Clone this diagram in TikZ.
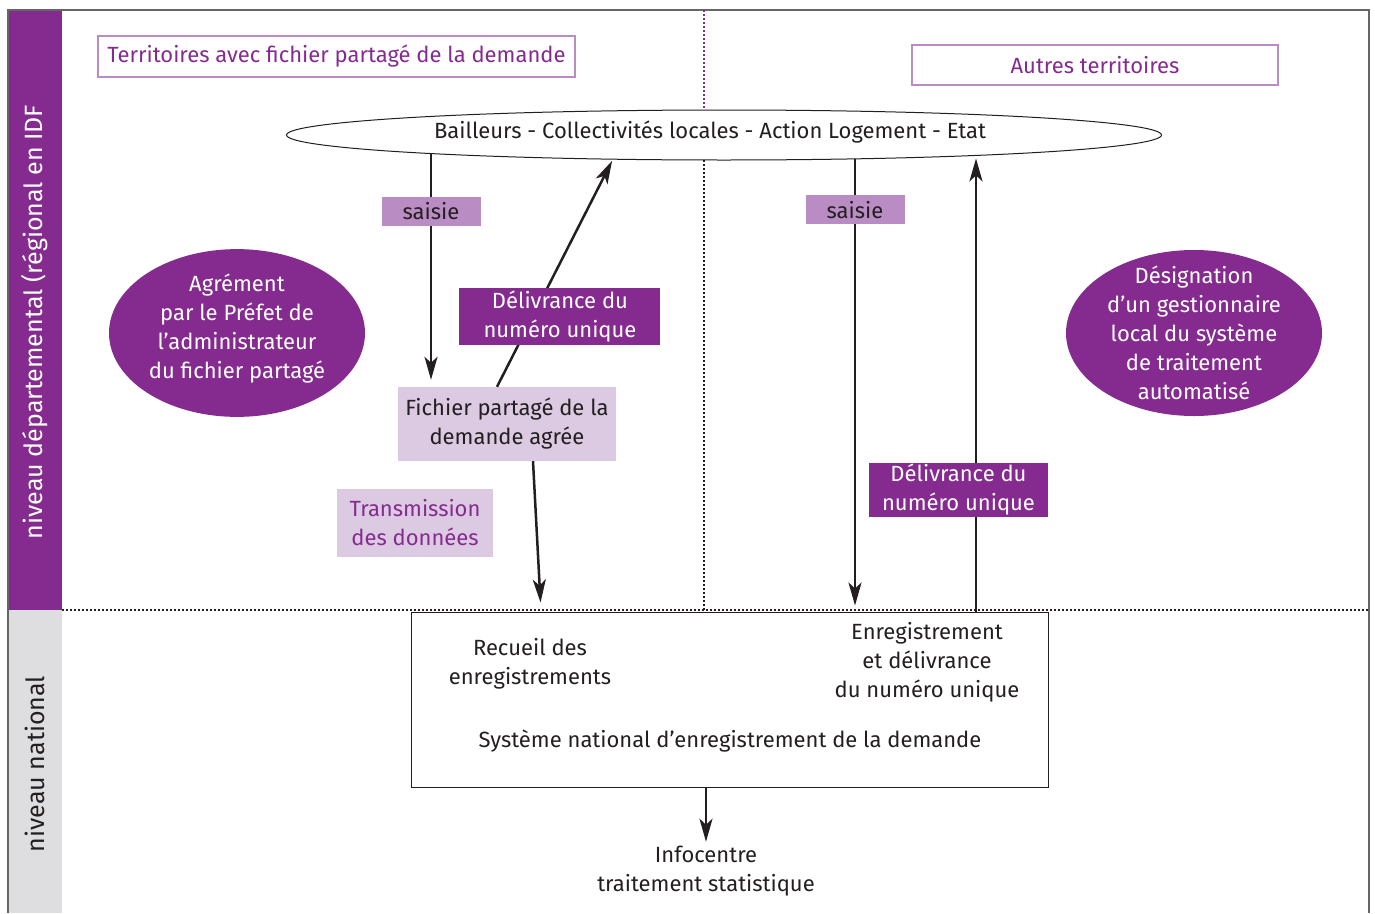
\documentclass[tikz,border=0pt]{standalone}
\usepackage{fontspec}
\setmainfont{Fira Sans}
\usetikzlibrary{shapes.geometric,arrows.meta}
\definecolor{prune}{HTML}{852B8F}
\definecolor{mauve}{HTML}{BA8CC4}
\definecolor{lilas}{HTML}{DCCAE3}
\definecolor{grisbande}{HTML}{DEDEE0}
\definecolor{encre}{HTML}{231F20}
\begin{document}
\begin{tikzpicture}[x=1pt, y=-1pt,
    every node/.style={font=\fontsize{22}{29}\selectfont, align=center, inner sep=0pt, text=encre},
    cadre/.style={draw=mauve, line width=1.2pt, text=prune},
    saisiebox/.style={fill=mauve, minimum width=99pt, minimum height=29pt},
    delivbox/.style={fill=prune, text=white},
    bulle/.style={ellipse, fill=prune, text=white, minimum width=256pt, minimum height=166pt},
    arr/.style={-{Stealth[length=23pt, width=13pt, inset=6pt]}, line width=2.5pt, encre},
    pointille/.style={line width=1.5pt, dash pattern=on 1.5pt off 2.5pt}]
    \useasboundingbox (0,0) rectangle (1375,913);
    \fill[prune] (8,10) rectangle (62,610);
    \fill[grisbande] (8,610) rectangle (62,913);
    \draw[gray!80!black, line width=1.2pt] (8,913) -- (8,10) -- (1369,10) -- (1369,913);
    \draw[pointille, encre] (62,610) -- (1369,610);
    \draw[pointille, prune] (704,10) -- (704,110);
    \draw[pointille, encre] (704,160) -- (704,610);
    \node[rotate=90, text=white, font=\fontsize{25}{29}\selectfont] (depart) at (35,322) {niveau départemental (régional en IDF};
    \node[rotate=90, font=\fontsize{25}{29}\selectfont] (natio) at (35,764) {niveau national};

    \node[cadre, minimum width=477pt, minimum height=41pt] (partage) at (336.5,56.5) {Territoires avec fichier partagé de la demande};
    \node[cadre, minimum width=366pt, minimum height=40pt] (autres) at (1095,65) {Autres territoires};
    \node[ellipse, draw=encre, fill=white, line width=1pt, minimum width=875pt, minimum height=50pt] (bailleurs) at (724,135) {};
    \node (bailleurstxt) at (710,132) {Bailleurs - Collectivités locales - Action Logement - Etat};
    \coordinate (bordg) at (431,154.4);
    \coordinate (borddiag) at (613,159);
    \coordinate (bordd) at (855,158.9);
    \coordinate (bordr) at (976,155.4);
    \node[fill=lilas, minimum width=218pt, minimum height=74pt] (fichier) at (507,424) {Fichier partagé de la\\demande agrée};
    \node[bulle, text depth=14pt] (agrement) at (237,333) {Agrément\\par le Préfet de\\l’administrateur\\du fichier partagé};
    \node[fill=lilas, text=prune, minimum width=156pt, minimum height=68pt] (transmission) at (415,523) {Transmission\\des données};
    \node[bulle, inner sep=-10pt] (designation) at (1194,333) {Désignation\\d’un gestionnaire\\local du système\\de traitement\\automatisé};
    \node[draw=encre, line width=1pt, minimum width=637pt, minimum height=175pt] (national) at (729.5,699.5) {};
    \node (recueil) at (530,664) {Recueil des\\enregistrements};
    \node (enreg) at (927,662) {Enregistrement\\et délivrance\\du numéro unique};
    \node (systeme) at (730,741) {Système national d’enregistrement de la demande};
    \node (infocentre) at (706,871) {Infocentre\\traitement statistique};

    \draw[arr, shorten >=7pt] (bordg) -- node[pos=0.245, saisiebox] {saisie} (bordg |- fichier.north);
    \draw[arr, shorten >=2pt] ([xshift=-10pt]fichier.north) -- node[pos=0.31, xshift=27pt, delivbox, minimum width=201pt, minimum height=57pt] {Délivrance du\\numéro unique} (borddiag);
    \draw[arr, shorten >=9pt] ([xshift=26pt]fichier.south) -- ([xshift=-188.5pt]national.north);
    \draw[arr, shorten >=6pt] (bordd) -- node[pos=0.112, saisiebox] {saisie} (bordd |- national.north);
    \draw[arr, shorten >=3pt] (bordr |- national.north) -- node[pos=0.267, xshift=-17.5pt, delivbox, minimum width=179pt, minimum height=54pt] {Délivrance du\\numéro unique} (bordr);
    \draw[arr, shorten >=4pt] (infocentre.north |- national.south) -- (infocentre.north);
\end{tikzpicture}
\end{document}
